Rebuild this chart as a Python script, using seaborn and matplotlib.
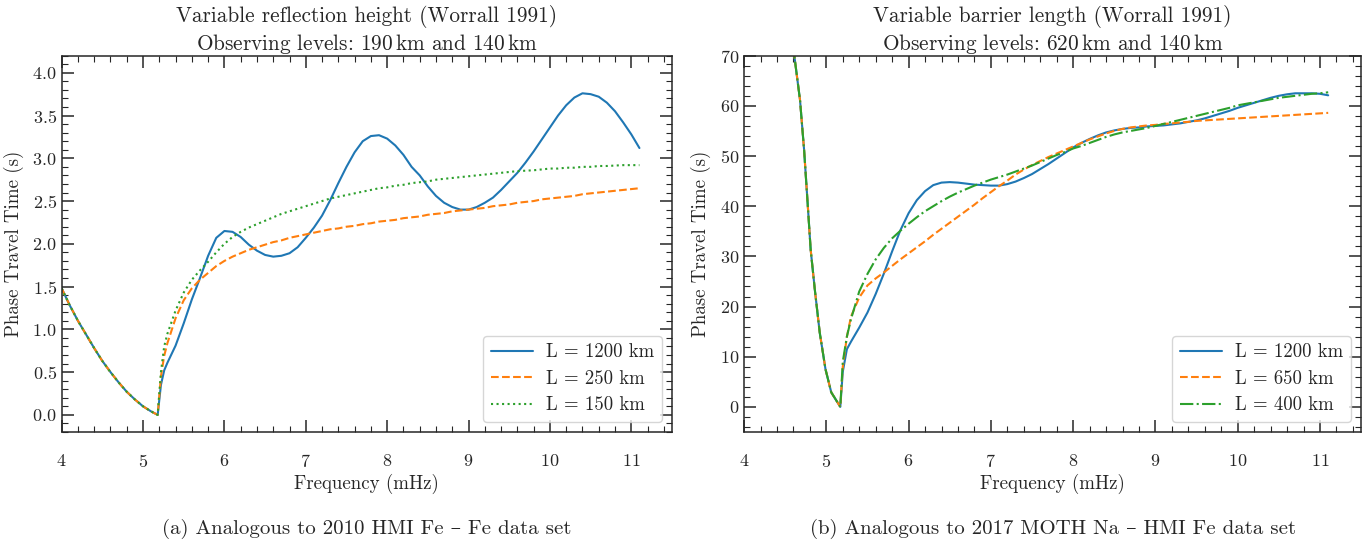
import numpy as np
import seaborn as sns
import matplotlib.pyplot as plt
from matplotlib.ticker import MultipleLocator

# --- data ---
# (a) variable reflection height, shared frequency grid (mHz)
fe_freq_fall = [4.0, 4.1, 4.2, 4.3, 4.4, 4.5, 4.6, 4.7, 4.8, 4.9, 5.0, 5.1, 5.18]
fe_fall = [1.48, 1.28, 1.10, 0.94, 0.78, 0.63, 0.50, 0.38, 0.27, 0.18, 0.10, 0.04, 0.0]
fe_freq_rise = [5.22, 5.26] + [round(5.3 + 0.1 * i, 1) for i in range(59)]
fe_L1200 = [0.35, 0.52,
            0.61, 0.81, 1.07, 1.35, 1.60, 1.86, 2.07, 2.15, 2.14, 2.08,
            1.99, 1.92, 1.87, 1.85, 1.86, 1.89, 1.96, 2.07, 2.19, 2.33,
            2.51, 2.71, 2.90, 3.07, 3.20, 3.26, 3.27, 3.23, 3.15, 3.04,
            2.90, 2.80, 2.67, 2.56, 2.48, 2.43, 2.40, 2.40, 2.43, 2.48,
            2.54, 2.63, 2.73, 2.83, 2.95, 3.08, 3.22, 3.36, 3.50, 3.62,
            3.71, 3.76, 3.75, 3.72, 3.65, 3.55, 3.42, 3.28, 3.12]
fe_L250 = [0.45, 0.69,
           0.84, 1.13, 1.34, 1.48, 1.58, 1.66, 1.74, 1.80, 1.85, 1.89,
           1.93, 1.96, 1.99, 2.02, 2.04, 2.07, 2.09, 2.11, 2.13, 2.15,
           2.17, 2.18, 2.20, 2.21, 2.23, 2.24, 2.26, 2.27, 2.28, 2.30,
           2.31, 2.32, 2.34, 2.35, 2.36, 2.38, 2.39, 2.40, 2.41, 2.42,
           2.44, 2.45, 2.46, 2.48, 2.49, 2.50, 2.52, 2.53, 2.54, 2.55,
           2.56, 2.58, 2.59, 2.60, 2.61, 2.62, 2.63, 2.64, 2.65]
fe_L150 = [0.50, 0.80,
           0.95, 1.22, 1.43, 1.58, 1.69, 1.79, 1.90, 2.00, 2.08, 2.14,
           2.19, 2.23, 2.27, 2.31, 2.35, 2.38, 2.41, 2.44, 2.47, 2.50,
           2.53, 2.55, 2.57, 2.59, 2.61, 2.63, 2.65, 2.66, 2.68, 2.69,
           2.71, 2.72, 2.73, 2.75, 2.76, 2.77, 2.78, 2.79, 2.80, 2.81,
           2.82, 2.83, 2.84, 2.85, 2.855, 2.86, 2.87, 2.88, 2.88, 2.89,
           2.89, 2.90, 2.90, 2.91, 2.91, 2.915, 2.92, 2.92, 2.92]

# (b) variable barrier length
na_freq_fall = [4.55, 4.61, 4.68, 4.73, 4.77, 4.81, 4.86, 4.92, 4.99, 5.06, 5.17]
na_fall = [77.5, 70.1, 61.2, 51.2, 41.3, 31.3, 23.4, 14.8, 7.5, 2.9, 0.0]
na_freq_rise = [5.2, 5.25] + [round(5.3 + 0.1 * i, 1) for i in range(59)]
na_L1200 = [7.0, 11.5,
            13.0, 15.8, 18.8, 22.5, 26.6, 31.0, 35.2, 38.6, 41.2, 43.0,
            44.2, 44.7, 44.8, 44.7, 44.5, 44.3, 44.2, 44.1, 44.1, 44.4,
            44.9, 45.6, 46.4, 47.4, 48.4, 49.5, 50.6, 51.7, 52.6, 53.4,
            54.1, 54.7, 55.1, 55.4, 55.6, 55.7, 55.9, 56.0, 56.1, 56.3,
            56.5, 56.8, 57.1, 57.5, 58.0, 58.5, 59.0, 59.6, 60.1, 60.6,
            61.1, 61.6, 62.0, 62.3, 62.5, 62.5, 62.5, 62.4, 62.1]
na_L650 = [8.0, 14.0,
           18.0, 21.8, 24.2, 25.6, 26.8, 28.1, 29.4, 30.6, 31.8, 33.0,
           34.3, 35.5, 36.7, 37.9, 39.1, 40.3, 41.6, 42.8, 44.0, 45.1,
           46.3, 47.3, 48.2, 49.0, 49.8, 50.5, 51.2, 51.9, 52.6, 53.3,
           53.9, 54.5, 55.0, 55.4, 55.7, 55.9, 56.1, 56.2, 56.4, 56.5,
           56.7, 56.8, 57.0, 57.1, 57.2, 57.3, 57.4, 57.5, 57.6, 57.7,
           57.8, 57.9, 58.0, 58.1, 58.2, 58.3, 58.4, 58.5, 58.6]
na_L400 = [9.0, 14.0,
           17.5, 23.0, 26.5, 29.4, 31.7, 33.6, 35.1, 36.5, 37.8, 39.0,
           40.0, 41.0, 41.9, 42.7, 43.4, 44.1, 44.7, 45.3, 45.8, 46.3,
           46.9, 47.5, 48.1, 48.8, 49.5, 50.2, 50.8, 51.5, 52.0, 52.6,
           53.2, 53.8, 54.3, 54.7, 55.0, 55.3, 55.6, 56.0, 56.4, 56.8,
           57.2, 57.6, 58.0, 58.4, 58.8, 59.2, 59.6, 60.1, 60.4, 60.7,
           61.0, 61.3, 61.6, 61.8, 62.0, 62.2, 62.4, 62.5, 62.7]

# --- style ---
sns.set_style("ticks")
plt.rcParams['font.family'] = ['cmr10', 'DejaVu Serif']
plt.rcParams['mathtext.fontset'] = 'cm'
plt.rcParams['axes.formatter.use_mathtext'] = True
plt.rcParams['axes.unicode_minus'] = False

colors = ['#1f77b4', '#ff7f0e', '#2ca02c']

fig = plt.figure(figsize=(13.7, 5.42), dpi=100)
ax_a = fig.add_axes([0.0450, 0.2030, 0.4455, 0.6943])
ax_b = fig.add_axes([0.5431, 0.2030, 0.4504, 0.6943])

panels = [
    dict(ax=ax_a, ffall=fe_freq_fall, fall=fe_fall, frise=fe_freq_rise,
         series=[('L = 1200 km', fe_L1200, '-'),
                 ('L = 250 km', fe_L250, '--'),
                 ('L = 150 km', fe_L150, ':')],
         title='Variable reflection height (Worrall 1991)\n'
               r'Observing levels: 190$\,$km and 140$\,$km',
         ylim=(-0.2, 4.2), ymaj=0.5, ymin=0.1,
         caption='(a) Analogous to 2010 HMI Fe \u2013 Fe data set'),
    dict(ax=ax_b, ffall=na_freq_fall, fall=na_fall, frise=na_freq_rise,
         series=[('L = 1200 km', na_L1200, '-'),
                 ('L = 650 km', na_L650, '--'),
                 ('L = 400 km', na_L400, '-.')],
         title='Variable barrier length (Worrall 1991)\n'
               r'Observing levels: 620$\,$km and 140$\,$km',
         ylim=(-5, 70), ymaj=10, ymin=2,
         caption='(b) Analogous to 2017 MOTH Na \u2013 HMI Fe data set'),
]

for p in panels:
    ax = p['ax']
    freq = list(p['ffall']) + list(p['frise'])
    for (label, rise, ls), c in zip(p['series'], colors):
        sns.lineplot(x=freq, y=list(p['fall']) + list(rise), ax=ax, color=c,
                     linestyle=ls, linewidth=1.5, label=label, sort=False)
    ax.set_xlim(4, 11.5)
    ax.set_ylim(*p['ylim'])
    ax.xaxis.set_major_locator(MultipleLocator(1))
    ax.xaxis.set_minor_locator(MultipleLocator(0.2))
    ax.yaxis.set_major_locator(MultipleLocator(p['ymaj']))
    ax.yaxis.set_minor_locator(MultipleLocator(p['ymin']))
    ax.tick_params(which='both', direction='in', top=True, right=True, labelsize=13)
    ax.tick_params(which='major', length=8.5, width=1.1)
    ax.tick_params(which='minor', length=4.5, width=0.8)
    ax.tick_params(axis='x', which='major', pad=15)
    ax.tick_params(axis='y', which='major', pad=3.5)
    for s in ax.spines.values():
        s.set_linewidth(1.1)
    ax.set_xlabel('Frequency (mHz)', fontsize=13.6, labelpad=3)
    ax.set_ylabel('Phase Travel Time (s)', fontsize=13.6, labelpad=6)
    ax.set_title(p['title'], fontsize=15.3, pad=4)
    ax.legend(loc='lower right', fontsize=13.5, handlelength=2.25,
              handletextpad=0.7, labelspacing=0.45, borderaxespad=0.55,
              fancybox=True, framealpha=0.8, edgecolor='0.8')
    bb = ax.get_position()
    fig.text((bb.x0 + bb.x1) / 2, 0.024, p['caption'], ha='center', va='center',
             fontsize=15, family=['cmr10', 'DejaVu Serif'])

fig.savefig('out.png', dpi=100)
